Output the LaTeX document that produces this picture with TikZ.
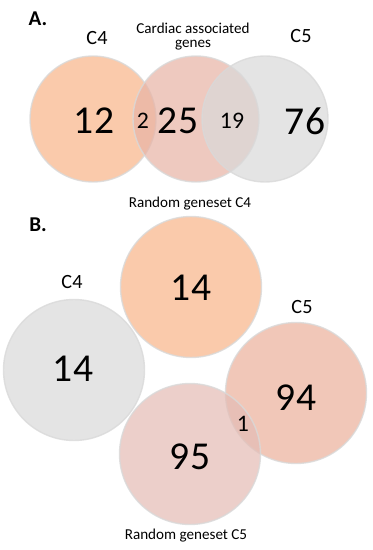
\documentclass[tikz,border=0pt]{standalone}
\usepackage{fontspec}
\setmainfont{Carlito}
\usepackage{tikz}
\usetikzlibrary{positioning}
\definecolor{peach}{HTML}{F8B68B}
\definecolor{rose}{HTML}{E8B4A6}
\definecolor{ash}{HTML}{D9D9D9}
\definecolor{salmon}{HTML}{ECB29C}
\definecolor{blush}{HTML}{E4BDB6}
\tikzset{
  venn/.style={circle, draw=white!85!black, line width=0.8pt, fill opacity=0.72, draw opacity=0.8, inner sep=0pt},
  vA/.style={venn, minimum size=2.52cm},
  vB/.style={venn, minimum size=2.82cm},
  big/.style={font=\fontsize{22.5}{24}\selectfont},
  mid/.style={font=\fontsize{13.5}{15}\selectfont},
  setlbl/.style={font=\fontsize{11.5}{13}\selectfont},
  note/.style={font=\fontsize{8.6}{10}\selectfont, align=center},
  panel/.style={font=\bfseries\fontsize{12}{14}\selectfont}
}
\begin{document}
\begin{tikzpicture}[x=0.02cm, y=-0.02cm]
\useasboundingbox (0,0) rectangle (372,550);
% panel A
\node[panel] (pa) at (38,19) {A.};
\node[vA, fill=peach] (a1) at (93,119) {};
\node[vA, fill=rose] (a2) at (196,119) {};
\node[vA, fill=ash] (a3) at (265,119) {};
\node[setlbl] (la1) at (97,38) {C4};
\node[note] (la2) at (193,37) {Cardiac associated\\[-2pt]genes};
\node[setlbl] (la3) at (301,36) {C5};
\node[big] (n12) at (94,121) {12};
\node[mid] (n2) at (143,121) {2};
\node[big] (n25) at (178,121) {25};
\node[mid] (n19) at (232,121) {19};
\node[big] (n76) at (305,121) {76};
\node[note] (ra) at (190,204) {Random geneset C4};
% panel B
\node[panel] (pb) at (38,225) {B.};
\node[vB, fill=peach] (b1) at (191,287) {};
\node[vB, fill=ash] (b2) at (74,370) {};
\node[vB, fill=salmon] (b3) at (296,393) {};
\node[vB, fill=blush] (b4) at (190,454) {};
\node[setlbl] (lb2) at (72,282) {C4};
\node[setlbl] (lb3) at (302,307) {C5};
\node[big] (m14a) at (191,288) {14};
\node[big] (m14b) at (73,369) {14};
\node[big] (m94) at (296,398) {94};
\node[big] (m95) at (190,457) {95};
\node[mid] (m1) at (243,424) {1};
\node[note] (rb) at (186,536) {Random geneset C5};
\end{tikzpicture}
\end{document}
